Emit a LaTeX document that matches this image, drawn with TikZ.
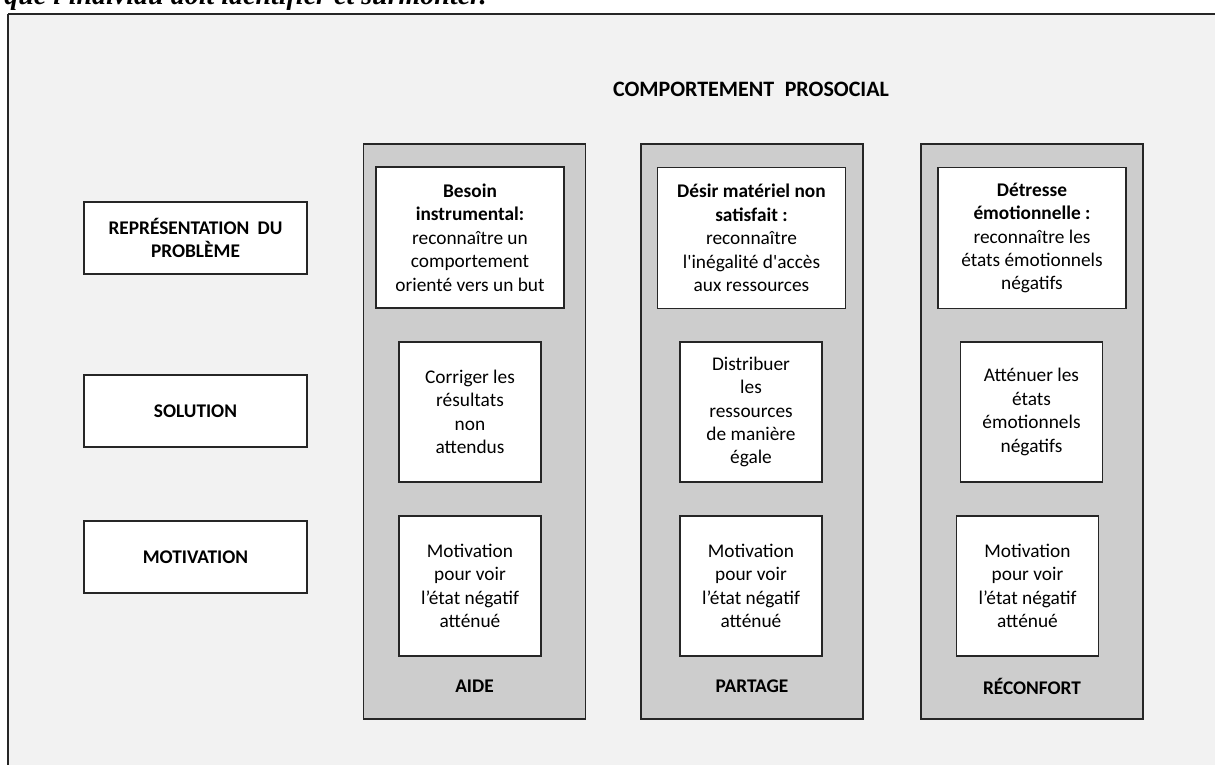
\documentclass[tikz,border=0pt]{standalone}
\usepackage{fontspec}
\setmainfont{Carlito}[Ligatures=TeXOff]
\newfontfamily\captionfont{Liberation Serif}
\usetikzlibrary{positioning}
\definecolor{framegray}{HTML}{F2F2F2}
\definecolor{colgray}{HTML}{CDCDCD}
\definecolor{edge}{HTML}{262626}

\begin{document}
\begin{tikzpicture}[
    x=0.75pt, y=-0.75pt,
    font=\fontsize{14.5}{17.6}\selectfont,
    rowlabel/.style={rectangle, draw=edge, line width=1pt, fill=white, minimum width=167.25pt, minimum height=54pt, align=center, font=\fontsize{14.5}{17.6}\selectfont\bfseries},
    column/.style={rectangle, draw=edge, line width=1.1pt, fill=colgray, minimum width=166.5pt, minimum height=431.25pt},
    needbox/.style={rectangle, draw=edge, line width=1pt, fill=white, minimum width=141pt, minimum height=105.75pt, align=center, inner sep=2pt},
    stepbox/.style={rectangle, draw=edge, line width=1pt, fill=white, minimum width=106.5pt, minimum height=105pt, align=center, inner sep=2pt},
    colname/.style={font=\fontsize{14.5}{17.6}\selectfont\bfseries}
]
    \useasboundingbox (0,0) rectangle (1215,765);
    \clip (0,0) rectangle (1215,765);
    \fill[framegray] (8,14) rectangle (1215,765);
    \draw[edge, line width=1.1pt] (8,14) -- (1215,14);
    \draw[edge, line width=2pt] (8,14) -- (8,765);
    \node[anchor=base west, inner sep=0pt, font=\captionfont\bfseries\itshape\fontsize{21}{23}\selectfont] (caption) at (4,4) {que l'individu doit identifier et surmonter.};

    \node[colname, font=\fontsize{16.5}{18}\selectfont\bfseries] (title) at (751,89) {COMPORTEMENT\hspace{0.25em} PROSOCIAL};

    \node[rowlabel] (probleme) at (195.5,238) {REPRÉSENTATION\hspace{0.2em} DU\\PROBLÈME};
    \node[rowlabel] (solution) at (195.5,411) {SOLUTION};
    \node[rowlabel] (motivation) at (195.5,557) {MOTIVATION};

    \node[column] (aide) at (474.5,431.5) {};
    \node[column] (partage) at (752,431.5) {};
    \node[column] (reconfort) at (1032,431.5) {};

    \node[needbox] (aideA) at (470,237.5) {\textbf{Besoin}\\\textbf{instrumental:}\\reconnaître un\\comportement\\orienté vers un but};
    \node[needbox] (partageA) at (751.5,238) {\textbf{Désir matériel non}\\\textbf{satisfait :}\\reconnaître\\l'inégalité d'accès\\aux ressources};
    \node[needbox] (reconfortA) at (1032,238) {\textbf{Détresse}\\\textbf{émotionnelle :}\\reconnaître les\\états émotionnels\\négatifs};

    \node[stepbox] (aideB) at (470,412) {Corriger les\\résultats\\non\\attendus};
    \node[stepbox] (partageB) at (751,412) {Distribuer\\les\\ressources\\de manière\\égale};
    \node[stepbox] (reconfortB) at (1031.5,412) {Atténuer les\\états\\émotionnels\\négatifs};

    \node[stepbox] (aideC) at (470,586) {Motivation\\pour voir\\l’état négatif\\atténué};
    \node[stepbox] (partageC) at (751,586) {Motivation\\pour voir\\l’état négatif\\atténué};
    \node[stepbox] (reconfortC) at (1027.5,586) {Motivation\\pour voir\\l’état négatif\\atténué};

    \node[colname] (aideN) at (474.5,686) {AIDE};
    \node[colname] (partageN) at (752,686) {PARTAGE};
    \node[colname] (reconfortN) at (1032,686) {RÉCONFORT};
\end{tikzpicture}
\end{document}
